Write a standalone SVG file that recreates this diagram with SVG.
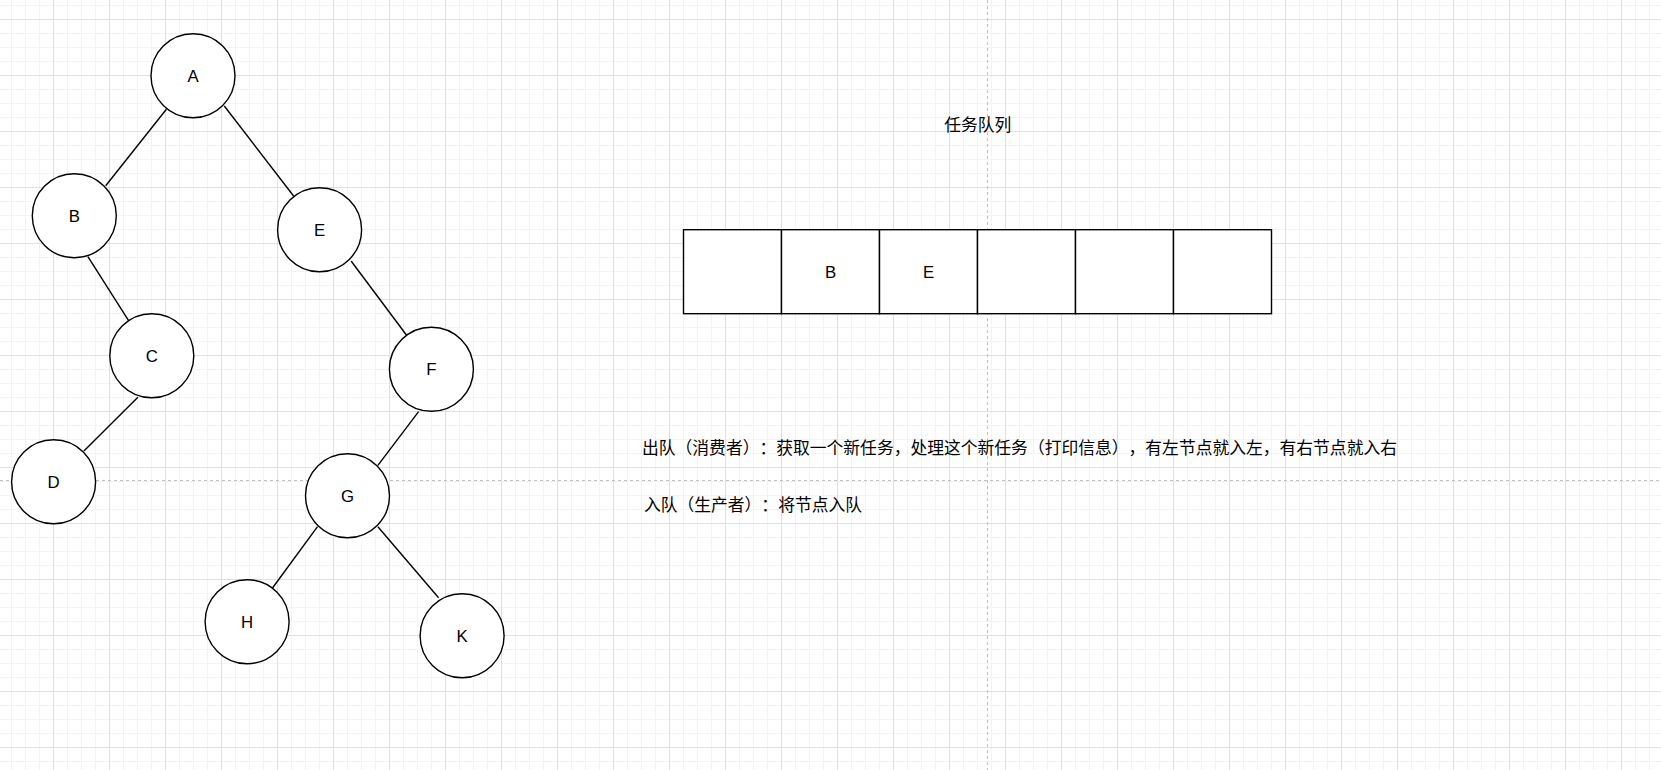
<svg xmlns="http://www.w3.org/2000/svg" width="1661" height="770" viewBox="0 0 1661 770">
  <defs>
    <pattern id="grid" patternUnits="userSpaceOnUse" x="53" y="19" width="56" height="56">
      <rect x="14" y="0" width="1" height="56" fill="#f3f3f3"/>
      <rect x="28" y="0" width="1" height="56" fill="#f3f3f3"/>
      <rect x="42" y="0" width="1" height="56" fill="#f3f3f3"/>
      <rect x="0" y="14" width="56" height="1" fill="#f3f3f3"/>
      <rect x="0" y="28" width="56" height="1" fill="#f3f3f3"/>
      <rect x="0" y="42" width="56" height="1" fill="#f3f3f3"/>
      <rect x="0" y="0" width="1" height="56" fill="#e0e0e0"/>
      <rect x="0" y="0" width="56" height="1" fill="#e0e0e0"/>
    </pattern>
    <style>
      .node { fill: #ffffff; stroke: #000000; stroke-width: 1.4; }
      .edge { stroke: #000000; stroke-width: 1.4; fill: none; }
      .lbl { font-family: "Liberation Sans", Arial, sans-serif; font-size: 16.8px; fill: #000000; text-anchor: middle; }
      .cjk { font-family: "Noto Sans CJK SC", "Liberation Sans", sans-serif; font-size: 16.8px; fill: #000000; text-spacing-trim: space-all; }
      .page { stroke: #c0c0c0; stroke-width: 1; stroke-dasharray: 3 3; }
    </style>
  </defs>

  <rect x="0" y="0" width="1661" height="770" fill="#ffffff"/>
  <rect x="0" y="0" width="1661" height="770" fill="url(#grid)"/>

  <g id="page-breaks">
    <line class="page" x1="987.5" y1="0" x2="987.5" y2="770"/>
    <line class="page" x1="0" y1="480.5" x2="1661" y2="480.5"/>
  </g>

  <g id="edges">
    <line class="edge" x1="166.4" y1="109.3" x2="105.7" y2="185.7"/>
    <line class="edge" x1="224.3" y1="106" x2="293.6" y2="196"/>
    <line class="edge" x1="87.9" y1="256.7" x2="128.6" y2="320.7"/>
    <line class="edge" x1="351.1" y1="261" x2="406.4" y2="335"/>
    <line class="edge" x1="137.9" y1="397.3" x2="83.9" y2="451"/>
    <line class="edge" x1="418.6" y1="411.7" x2="377.9" y2="465.3"/>
    <line class="edge" x1="317.5" y1="526.7" x2="272.5" y2="588"/>
    <line class="edge" x1="377.9" y1="526.7" x2="438.6" y2="597.7"/>
  </g>

  <g id="node-A"><circle class="node" cx="193" cy="75.7" r="42"/><text class="lbl" x="193" y="81.7">A</text></g>
  <g id="node-B"><circle class="node" cx="74.3" cy="215.7" r="42"/><text class="lbl" x="74.3" y="221.7">B</text></g>
  <g id="node-E"><circle class="node" cx="319.6" cy="229.7" r="42"/><text class="lbl" x="319.6" y="235.7">E</text></g>
  <g id="node-C"><circle class="node" cx="151.8" cy="355.7" r="42"/><text class="lbl" x="151.8" y="361.7">C</text></g>
  <g id="node-F"><circle class="node" cx="431.4" cy="369.3" r="42"/><text class="lbl" x="431.4" y="375.3">F</text></g>
  <g id="node-D"><circle class="node" cx="53.6" cy="481.7" r="42"/><text class="lbl" x="53.6" y="487.7">D</text></g>
  <g id="node-G"><circle class="node" cx="347.5" cy="495.7" r="42"/><text class="lbl" x="347.5" y="501.7">G</text></g>
  <g id="node-H"><circle class="node" cx="247.1" cy="621.7" r="42"/><text class="lbl" x="247.1" y="627.7">H</text></g>
  <g id="node-K"><circle class="node" cx="462.1" cy="635.7" r="42"/><text class="lbl" x="462.1" y="641.7">K</text></g>

  <g id="queue-title"><text class="cjk" x="977.8" y="130.6" text-anchor="middle">任务队列</text></g>

  <g id="queue">
    <rect class="node" x="683.5" y="229.7" width="98" height="84"/>
    <rect class="node" x="781.5" y="229.7" width="98" height="84"/>
    <rect class="node" x="879.5" y="229.7" width="98" height="84"/>
    <rect class="node" x="977.5" y="229.7" width="98" height="84"/>
    <rect class="node" x="1075.5" y="229.7" width="98" height="84"/>
    <rect class="node" x="1173.5" y="229.7" width="98" height="84"/>
    <text class="lbl" x="830.5" y="277.7">B</text>
    <text class="lbl" x="928.5" y="277.7">E</text>
  </g>

  <g id="text-dequeue"><text class="cjk" x="642" y="454.1" textLength="755" lengthAdjust="spacing">出队（消费者）：获取一个新任务，处理这个新任务（打印信息），有左节点就入左，有右节点就入右</text></g>
  <g id="text-enqueue"><text class="cjk" x="644" y="510.7" textLength="218" lengthAdjust="spacing">入队（生产者）：将节点入队</text></g>
</svg>
